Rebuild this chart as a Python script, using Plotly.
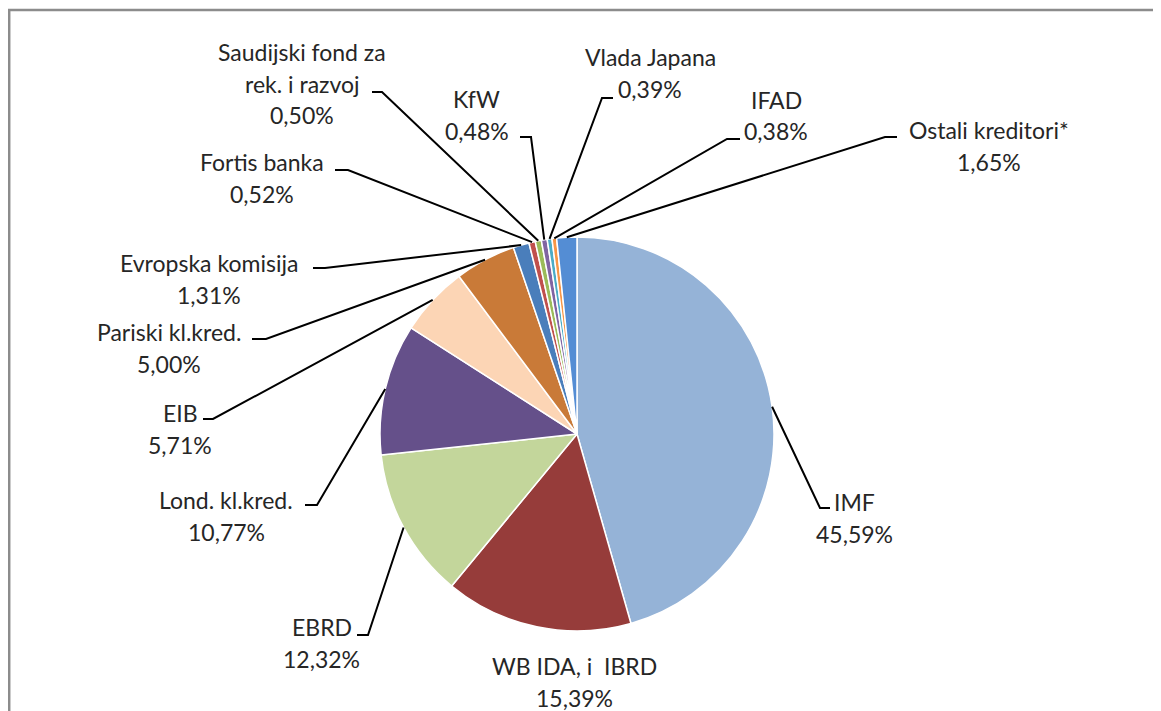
import math
import plotly.graph_objects as go

# ---- data ----
names = ["IMF", "WB IDA, i  IBRD", "EBRD", "Lond. kl.kred.", "EIB", "Pariski kl.kred.",
         "Evropska komisija", "Fortis banka", "Saudijski fond za\nrek. i razvoj", "KfW",
         "Vlada Japana", "IFAD", "Ostali kreditori*"]
values = [45.59, 15.39, 12.32, 10.77, 5.71, 5.00, 1.31, 0.52, 0.50, 0.48, 0.39, 0.38, 1.65]
colors = ["#95B3D7", "#963C3A", "#C3D69B", "#65508A", "#FCD5B5", "#C97A38",
          "#4A7EBB", "#C0504D", "#9BBB59", "#8064A2", "#4BACC6", "#F79646", "#548DD4"]

# ---- label layout (window pixels): text centre x, first-line y, elbow, horizontal end ----
label_x = [854, 574, 322, 226, 180, 169, 209, 262, 302, 477, 650, 776, 989]
label_y = [502, 666, 627, 500, 413, 332, 263, 162, 52, 99, 57, 100, 130]
elbow = [(820, 508), None, (368, 635), (317, 505), (213, 419), (266, 339), (325, 268),
         (348, 170), (382, 92), (531, 137), (602, 98), (727, 139), (885, 137)]
hend_x = [830, None, 357, 305, 203, 252, 313, 335, 372, 520, 613, 740, 897]

OX, OY = 8, 8            # page body margin
W, H = 1153, 703
CX, CY, R = 577, 434, 197
LINE_H = 31.5


def px(x):
    return (x - OX) / W


def py(y):
    return 1 - (y - OY) / H


fig = go.Figure(go.Pie(
    values=values,
    labels=[n.replace("\n", " ") for n in names],
    marker=dict(colors=colors, line=dict(color="white", width=1.5)),
    sort=False, direction="clockwise", rotation=0,
    textinfo="none", hoverinfo="label+percent",
    domain=dict(x=[px(CX - R), px(CX + R)], y=[py(CY + R), py(CY - R)]),
    showlegend=False,
))

annotations = []
shapes = []
total = sum(values)
cum = 0.0
for i, v in enumerate(values):
    mid = 2 * math.pi * (cum + v / 2) / total
    cum += v
    lines = names[i].split("\n") + [f"{v:.2f}".replace(".", ",") + "%"]
    for k, t in enumerate(lines):
        annotations.append(dict(
            x=px(label_x[i]), y=py(label_y[i] + k * LINE_H), xref="paper", yref="paper",
            text=t, showarrow=False, xanchor="center", yanchor="middle",
            font=dict(family="Lato", size=23, color="#262626"),
        ))
    if elbow[i] is not None:
        ex, ey = CX + R * math.sin(mid), CY - R * math.cos(mid)
        bx, by = elbow[i]
        path = (f"M {px(ex)} {py(ey)} L {px(bx)} {py(by)} L {px(hend_x[i])} {py(by)}")
        shapes.append(dict(type="path", path=path, xref="paper", yref="paper",
                           line=dict(color="black", width=2)))

# outer chart border (cut at right/bottom in the reference)
shapes.append(dict(type="rect", xref="paper", yref="paper",
                   x0=px(9.2), y0=py(730), x1=px(1180), y1=py(10),
                   line=dict(color="#8C8C8C", width=2.5), fillcolor="rgba(0,0,0,0)"))

fig.update_layout(
    width=W, height=H, margin=dict(l=0, r=0, t=0, b=0),
    paper_bgcolor="white", plot_bgcolor="white",
    annotations=annotations, shapes=shapes,
)

fig.write_html("out.html")
